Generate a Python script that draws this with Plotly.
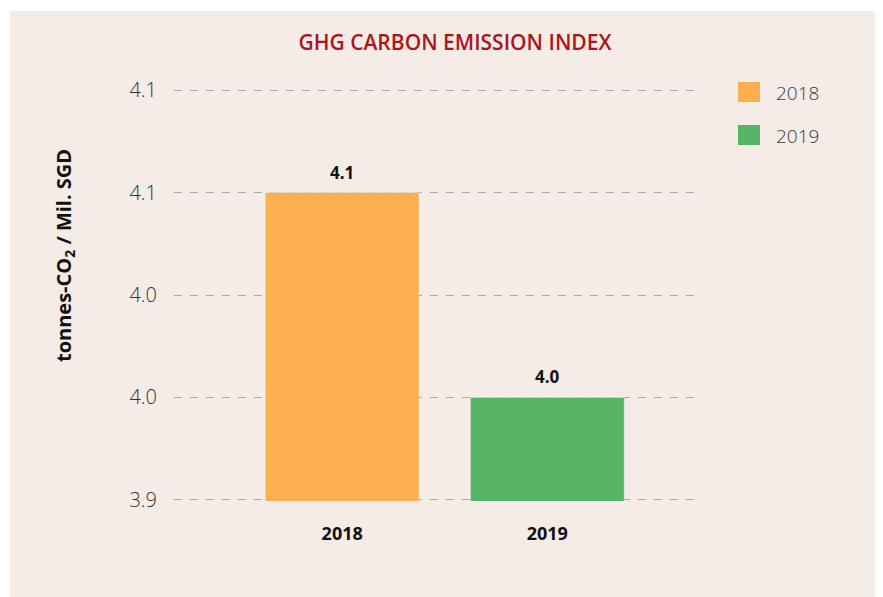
import plotly.graph_objects as go

categories = ["2018", "2019"]
values = [4.05, 3.95]
value_labels = ["4.1", "4.0"]
bar_colors = ["#FBAF4F", "#57B565"]
y_tickvals = [3.9, 3.95, 4.0, 4.05, 4.1]
y_ticktext = ["3.9", "4.0", "4.0", "4.1", "4.1"]

OFF = 8  # page body margin
PW, PH = 883, 597  # page size
W, H = PW - OFF, PH - OFF
L, R, T, B = 174, 697, 89, 501  # plot area in page pixels

def px_x(px):
    return (px - L) / (R - L)

def px_y(py):
    return (B - py) / (B - T)

FONT = "Open Sans"
fig = go.Figure()
for c, v, col in zip(categories, values, bar_colors):
    fig.add_trace(go.Bar(x=[c], y=[v], marker_color=col,
                         width=0.75, showlegend=False, hoverinfo="skip"))

annotations = []
for i, (v, t) in enumerate(zip(values, value_labels)):
    annotations.append(dict(x=i, y=v, xref="x", yref="y", text="<b>%s</b>" % t,
                            showarrow=False, yanchor="bottom", yshift=7,
                            font=dict(family=FONT, size=17, color="#111111")))

# axis title
annotations.append(dict(x=px_x(64), y=px_y(256), xref="paper", yref="paper",
                        text="<b>tonnes-CO<sub>2</sub> / Mil. SGD</b>", textangle=-90,
                        showarrow=False, xanchor="center", yanchor="middle",
                        font=dict(family=FONT, size=20, color="#111111")))

shapes = [dict(type="rect", xref="paper", yref="paper", layer="below",
               x0=px_x(10), x1=px_x(PW + 5), y0=px_y(11), y1=px_y(PH + 5),
               fillcolor="#F5ECE7", line=dict(width=0))]

# legend (custom swatches)
leg_y = [92, 135]
for c, col, yy in zip(categories, bar_colors, leg_y):
    shapes.append(dict(type="rect", xref="paper", yref="paper",
                       x0=px_x(738), x1=px_x(760), y0=px_y(yy - 10), y1=px_y(yy + 10),
                       fillcolor=col, line=dict(width=0)))
    annotations.append(dict(x=px_x(774), y=px_y(yy + 1), xref="paper", yref="paper",
                            text=c, showarrow=False, xanchor="left", yanchor="middle",
                            font=dict(family=FONT, size=19, color="#3a3a3a", weight=300)))

fig.update_layout(
    width=W, height=H,
    margin=dict(l=L - OFF, r=PW - R, t=T - OFF, b=PH - B, pad=0),
    paper_bgcolor="white", plot_bgcolor="rgba(0,0,0,0)",
    title=dict(text="GHG CARBON EMISSION INDEX", x=(455 - OFF) / W, xanchor="center",
               y=1 - (43 - OFF) / H, yanchor="middle",
               font=dict(family=FONT, size=21, color="#AE141B", weight=600)),
    showlegend=False,
    shapes=shapes, annotations=annotations,
    xaxis=dict(type="category", range=[-0.82, 1.73], showgrid=False, zeroline=False,
               showline=False, ticks="", ticklabelstandoff=20,
               tickfont=dict(family=FONT, size=18, color="#111111", weight="bold")),
    yaxis=dict(range=[3.8995, 4.1005], tickvals=y_tickvals, ticktext=y_ticktext,
               showgrid=True, gridcolor="#AAAAAA", griddash="8px,8px", gridwidth=1,
               zeroline=False, showline=False, ticks="", ticklabelstandoff=16,
               tickfont=dict(family=FONT, size=20, color="#333333", weight=300)),
)
fig.write_html("out.html")
